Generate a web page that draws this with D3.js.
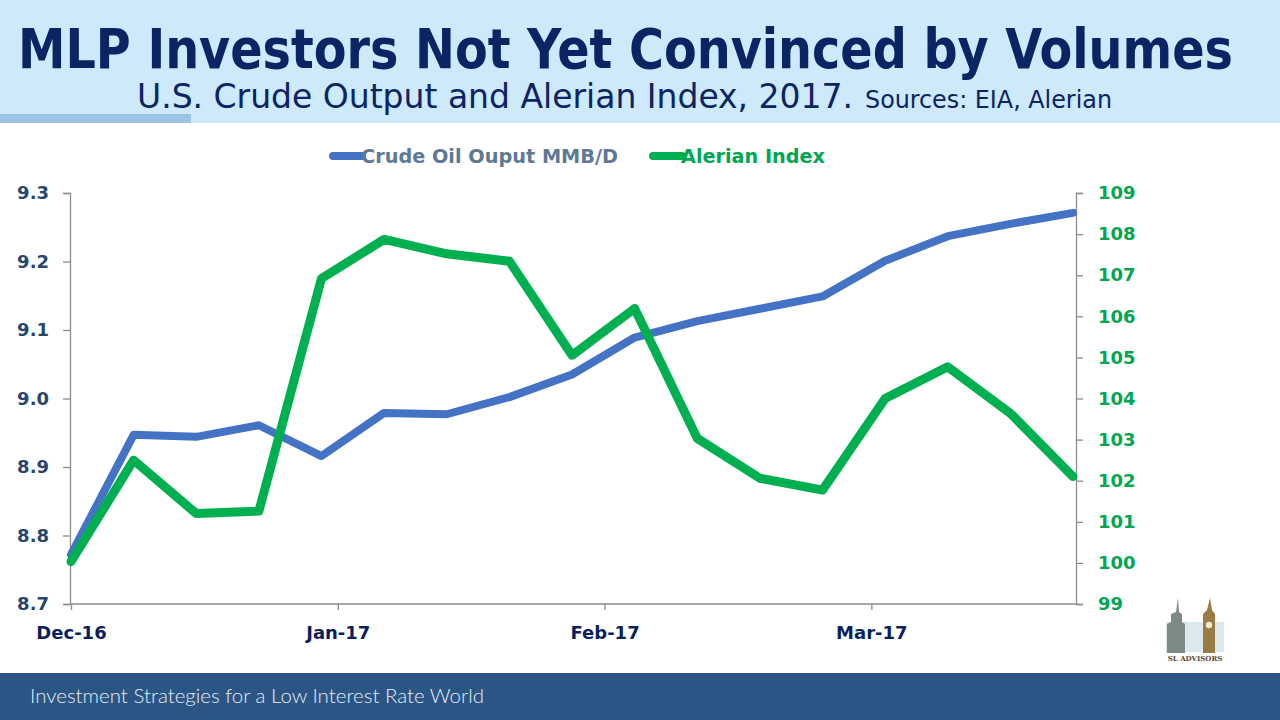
<!DOCTYPE html>
<html>
<head>
<meta charset="utf-8">
<script src="https://cdn.jsdelivr.net/npm/d3@7/dist/d3.min.js"></script>
<style>
  body { margin: 0; background: #fff; }
  svg { display: block; }
</style>
</head>
<body>
<svg id="chart"></svg>
<script>
// weekly EIA dates (categories)
const weekDates = ["2016-12-02", "2016-12-09", "2016-12-16", "2016-12-23", "2016-12-30",
    "2017-01-06", "2017-01-13", "2017-01-20", "2017-01-27",
    "2017-02-03", "2017-02-10", "2017-02-17", "2017-02-24",
    "2017-03-03", "2017-03-10", "2017-03-17", "2017-03-24"];

// Crude oil output, MMB/D (left axis)
const crudeOutput = [8.772, 8.947, 8.944, 8.961, 8.916, 8.979, 8.977, 9.002, 9.035,
    9.089, 9.113, 9.131, 9.149, 9.201, 9.237, 9.255, 9.271];

// Alerian index (right axis)
const alerianIndex = [100.03, 102.5, 101.2, 101.26, 106.92, 107.87, 107.52, 107.34, 105.05,
    106.19, 103.03, 102.06, 101.77, 104.0, 104.77, 103.64, 102.1];

// month tick labels and where they fall, in weeks from the first point
const monthLabels = ["Dec-16", "Jan-17", "Feb-17", "Mar-17"];
const monthPos = [0, 4.26, 8.52, 12.78];

const leftTicks = [8.7, 8.8, 8.9, 9.0, 9.1, 9.2, 9.3];
const rightTicks = [99, 100, 101, 102, 103, 104, 105, 106, 107, 108, 109];

const W = 1280, H = 720;
const plot = { left: 70, right: 1076, top: 193, bottom: 604 };

const svg = d3.select("#chart").attr("width", W).attr("height", H);

// Banner de título
svg.append("rect").attr("x", 0).attr("y", 0).attr("width", W).attr("height", 123)
    .attr("fill", "#cde9fa");
svg.append("rect").attr("x", 0).attr("y", 114).attr("width", 191).attr("height", 9)
    .attr("fill", "#9dc3e6");

svg.append("text")
    .attr("x", 18).attr("y", 68)
    .attr("textLength", 1215).attr("lengthAdjust", "spacingAndGlyphs")
    .attr("font-family", "'DejaVu Sans', Verdana, sans-serif")
    .attr("font-weight", "bold").attr("font-size", 56)
    .attr("fill", "#0b2463")
    .text("MLP Investors Not Yet Convinced by Volumes");

svg.append("text")
    .attr("x", 137).attr("y", 108)
    .attr("textLength", 716).attr("lengthAdjust", "spacingAndGlyphs")
    .attr("font-family", "'DejaVu Sans Condensed', 'DejaVu Sans', sans-serif")
    .attr("font-size", 34)
    .attr("fill", "#0b2463")
    .text("U.S. Crude Output and Alerian Index, 2017.");

svg.append("text")
    .attr("x", 865).attr("y", 108)
    .attr("textLength", 247).attr("lengthAdjust", "spacingAndGlyphs")
    .attr("font-family", "'DejaVu Sans Condensed', 'DejaVu Sans', sans-serif")
    .attr("font-size", 24)
    .attr("fill", "#0b2463")
    .text("Sources: EIA, Alerian");

// Escalas
const x = d3.scaleLinear().domain([0, weekDates.length - 1]).range([plot.left + 1, plot.right - 3]);
const yL = d3.scaleLinear().domain([8.7, 9.3]).range([plot.bottom, plot.top]);
const yR = d3.scaleLinear().domain([99, 109]).range([plot.bottom, plot.top]);

const axisColor = "#8c8c8c";

// Eje izquierdo
const gL = svg.append("g").attr("transform", `translate(${plot.left},0)`)
    .call(d3.axisLeft(yL).tickValues(leftTicks).tickFormat(d3.format(".1f")).tickSize(7).tickPadding(14));
gL.selectAll("text")
    .attr("font-family", "'DejaVu Sans', Tahoma, sans-serif")
    .attr("font-weight", "bold").attr("font-size", 18)
    .attr("fill", "#27466f");

// Eje derecho
const gR = svg.append("g").attr("transform", `translate(${plot.right},0)`)
    .call(d3.axisRight(yR).tickValues(rightTicks).tickFormat(d3.format("d")).tickSize(7).tickPadding(15));
gR.selectAll("text")
    .attr("font-family", "'DejaVu Sans', Tahoma, sans-serif")
    .attr("font-weight", "bold").attr("font-size", 18)
    .attr("fill", "#00a651");

// Eje inferior
const gB = svg.append("g").attr("transform", `translate(0,${plot.bottom})`)
    .call(d3.axisBottom(x).tickValues(monthPos).tickFormat((d, i) => monthLabels[i]).tickSize(6).tickPadding(16));
gB.selectAll("text")
    .attr("font-family", "'DejaVu Sans', Tahoma, sans-serif")
    .attr("font-weight", "bold").attr("font-size", 18)
    .attr("fill", "#0b1f5c");

[gL, gR, gB].forEach(g => {
    g.select(".domain").attr("stroke", axisColor).attr("stroke-width", 1.3);
    g.selectAll(".tick line").attr("stroke", axisColor).attr("stroke-width", 1.3);
});
gB.select(".domain").attr("d", `M${plot.left},0H${plot.right}`);

// Líneas
const lineL = d3.line().x((d, i) => x(i)).y(d => yL(d));
const lineR = d3.line().x((d, i) => x(i)).y(d => yR(d));

svg.append("path").datum(crudeOutput)
    .attr("d", lineL)
    .attr("fill", "none").attr("stroke", "#4472c4")
    .attr("stroke-width", 8).attr("stroke-linejoin", "round").attr("stroke-linecap", "round");

svg.append("path").datum(alerianIndex)
    .attr("d", lineR)
    .attr("fill", "none").attr("stroke", "#00b050")
    .attr("stroke-width", 9).attr("stroke-linejoin", "round").attr("stroke-linecap", "round");

// Leyenda
const legendItems = [
    { label: "Crude Oil Ouput MMB/D", color: "#4472c4", textColor: "#5f7896", x: 330, w: 257 },
    { label: "Alerian Index", color: "#00b050", textColor: "#00a651", x: 650, w: 144 }
];
const legend = svg.append("g").selectAll("g").data(legendItems).enter().append("g")
    .attr("transform", d => `translate(${d.x},156)`);
legend.append("line")
    .attr("x1", 3).attr("x2", 32).attr("y1", 0).attr("y2", 0)
    .attr("stroke", d => d.color).attr("stroke-width", 8).attr("stroke-linecap", "round");
legend.append("text")
    .attr("x", 31).attr("y", 7)
    .attr("textLength", d => d.w).attr("lengthAdjust", "spacingAndGlyphs")
    .attr("font-family", "'DejaVu Sans', Tahoma, sans-serif")
    .attr("font-weight", "bold").attr("font-size", 19)
    .attr("fill", d => d.textColor)
    .text(d => d.label);

// Logo (aproximado)
const logo = svg.append("g").attr("transform", "translate(1160,592)");
logo.append("rect").attr("x", 6).attr("y", 30).attr("width", 58).attr("height", 30).attr("fill", "#dbe8ef");
logo.append("path").attr("d", "M18,6 L19,20 L22,22 L22,30 L25,32 L25,61 L7,61 L7,32 L11,30 L11,22 L16,20 Z")
    .attr("fill", "#7d8a86");
logo.append("path").attr("d", "M50,6 L52,18 L55,22 L55,61 L43,61 L43,22 L47,18 Z")
    .attr("fill", "#9a7a45");
logo.append("circle").attr("cx", 49).attr("cy", 33).attr("r", 3.2).attr("fill", "#f3ead2");
logo.append("text").attr("x", 35).attr("y", 69).attr("text-anchor", "middle")
    .attr("font-family", "'DejaVu Serif', serif").attr("font-weight", "bold").attr("font-size", 7)
    .attr("fill", "#5a4634").text("SL ADVISORS");

// Pie de página
svg.append("rect").attr("x", 0).attr("y", 673).attr("width", W).attr("height", 47).attr("fill", "#2b5584");
svg.append("text")
    .attr("x", 30).attr("y", 703)
    .attr("textLength", 454).attr("lengthAdjust", "spacingAndGlyphs")
    .attr("font-family", "Lato, 'Open Sans', sans-serif")
    .attr("font-weight", 300).attr("font-size", 20)
    .attr("fill", "#e6eef7")
    .text("Investment Strategies for a Low Interest Rate World");
</script>
</body>
</html>
